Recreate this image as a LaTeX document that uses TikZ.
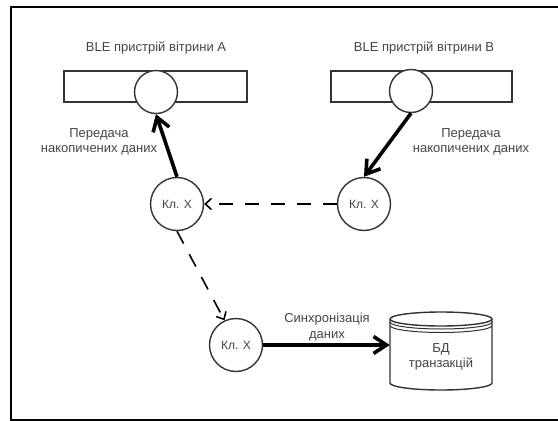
\documentclass[tikz,border=0pt]{standalone}
\usepackage{fontspec}
\setmainfont{Liberation Sans}
\usetikzlibrary{arrows.meta}
\definecolor{ink}{HTML}{333333}
\definecolor{txt}{HTML}{444444}
\tikzset{
  x=1pt, y=-1pt,
  lbl/.style={text=txt, font=\fontsize{13}{15.5}\selectfont, align=center, inner sep=0pt},
  bar/.style={draw=ink, line width=1.4pt, fill=white},
  dot/.style={circle, draw=ink, line width=1.4pt, fill=white, inner sep=0pt},
  client/.style={dot, minimum size=53pt, text=txt, font=\fontsize{12}{14}\selectfont},
  bigflow/.style={draw=black, line width=3.6pt, -{Straight Barb[length=13pt,width=17pt]}},
  dashflow/.style={draw=black, line width=1.6pt, dash pattern=on 14pt off 12pt,
    -{Straight Barb[length=6pt,width=11pt]}},
}
\begin{document}
\begin{tikzpicture}
\useasboundingbox (0,0) rectangle (558,421);
\clip (0,0) rectangle (558,421);
% outer frame
\draw[line width=2pt] (11,7) rectangle (575,419.5);

% shop window devices
\draw[bar] (64,71) rectangle (247,102);
\draw[bar] (331,71) rectangle (512,102);
\node[dot, minimum size=43pt] (ca) at (156,92) {};
\node[dot, minimum size=43pt] (cb) at (411,91) {};
\node[lbl] (ta) at (156,48) {BLE пристрій вітрини A};
\node[lbl] (tb) at (424,48) {BLE пристрій вітрини B};

% clients
\node[client] (k1) at (177,204) {Кл. X};
\node[client] (k2) at (364,204) {Кл. X};
\node[client] (k3) at (236,345) {Кл. X};

% transactions database (cylinder; y axis points down, so 90 degrees is downward)
\draw[ink, line width=1.4pt, fill=white]
  (390,319) -- (390,383) arc[start angle=180, end angle=0, x radius=51, y radius=7]
  -- (492,319) arc[start angle=0, end angle=-180, x radius=51, y radius=7] -- cycle;
\draw[ink, line width=1.4pt] (390,319) arc[start angle=180, end angle=0, x radius=51, y radius=7];
\draw[ink, line width=1pt] (390,322) arc[start angle=180, end angle=0, x radius=51, y radius=7];
\draw[ink, line width=1pt] (390,325.5) arc[start angle=180, end angle=0, x radius=51, y radius=7];
\node[lbl, minimum width=102pt, minimum height=64pt] (db) at (441,357) {БД\\транзакцій};

% flows
\draw[bigflow] (k1.north) -- (ca.south);
\draw[bigflow] (cb.south) -- (k2.north);
\draw[dashflow] (k2.west) -- (k1.east);
\draw[dashflow] (k1.south) -- (k3.115);
\draw[bigflow] (k3.east) -- (k3.east -| db.west);

% flow labels
\node[lbl] (la) at (99,142) {Передача\\накопичених даних};
\node[lbl] (lb) at (471,142) {Передача\\накопичених даних};
\node[lbl] (ls) at (327,327) {Синхронізація\\даних};
\end{tikzpicture}
\end{document}
